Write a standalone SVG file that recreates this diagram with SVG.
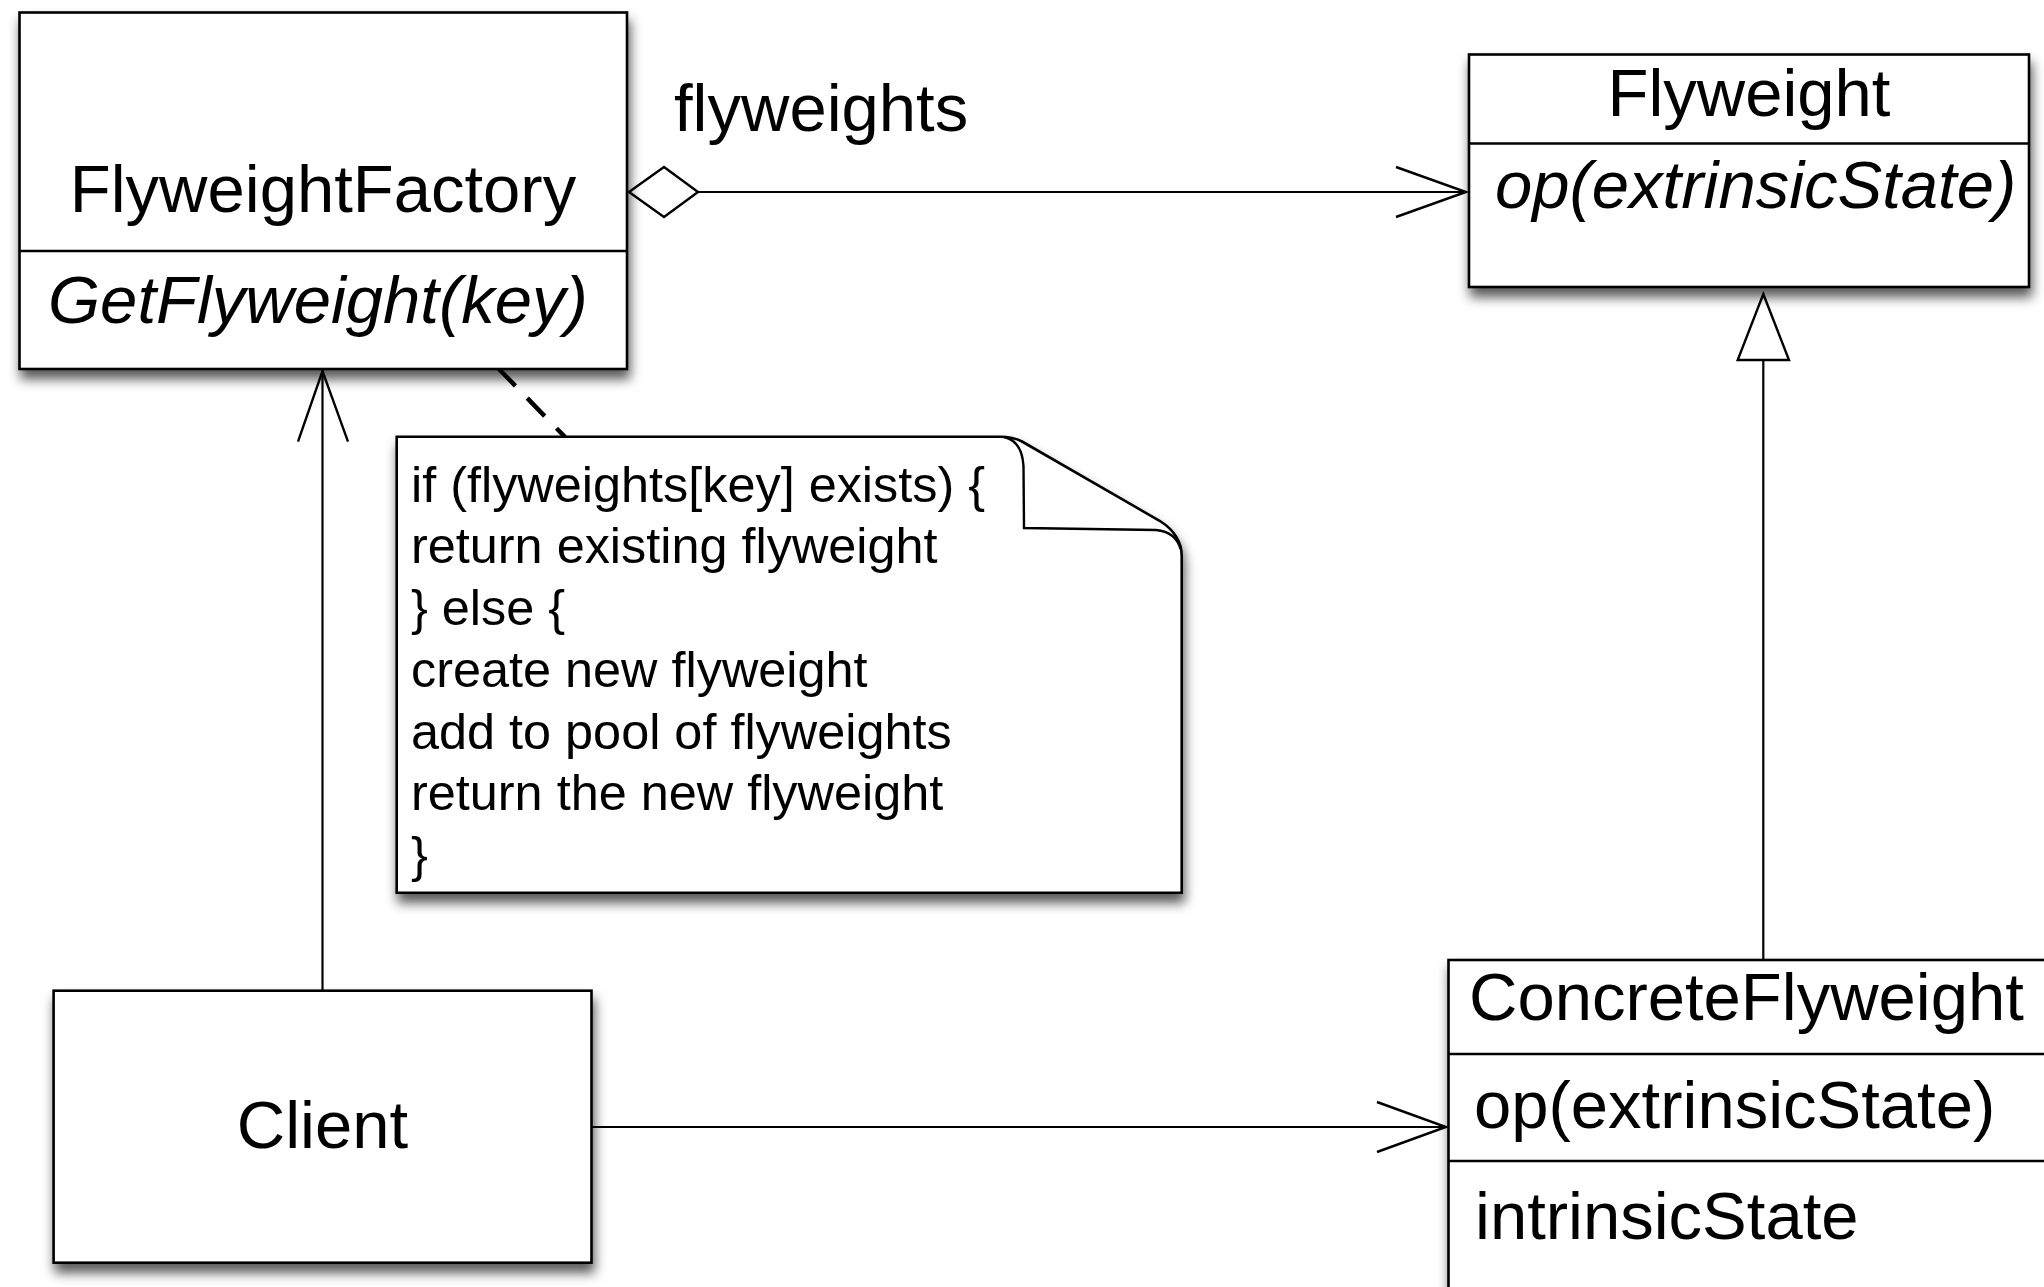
<svg xmlns="http://www.w3.org/2000/svg" width="2044" height="1287" viewBox="0 0 2044 1287">
<style>
.box{fill:#fff;stroke:#000;stroke-width:2.6}
.div{stroke:#000;stroke-width:2.4;fill:none}
.t{font-family:"Liberation Sans",Arial,Helvetica,sans-serif;font-size:67px;fill:#000}
.i{font-style:italic}
.n{font-family:"Liberation Sans",Arial,Helvetica,sans-serif;font-size:50.4px;fill:#000}
.ln{stroke:#000;stroke-width:2.2;fill:none}
.open{stroke:#000;stroke-width:2.4;fill:none}
.hollow{stroke:#000;stroke-width:2.4;fill:#fff}
</style>
<defs>
<filter id="sh" x="-10%" y="-10%" width="125%" height="130%">
<feDropShadow dx="2" dy="9" stdDeviation="6" flood-color="#000" flood-opacity="0.65"/>
</filter>
</defs>
<rect width="2044" height="1287" fill="#fff"/>

<g id="connectors">
<line class="ln" x1="322.5" y1="990.7" x2="322.5" y2="370"/>
<polyline class="open" points="298,441.7 322.5,371 348,441.7"/>
<line class="ln" x1="591.5" y1="1127" x2="1446" y2="1127"/>
<polyline class="open" points="1377,1102 1446,1127 1377,1152"/>
<line class="ln" x1="698" y1="192" x2="1466" y2="192"/>
<polyline class="open" points="1396,167 1466,192 1396,217"/>
<polygon class="hollow" points="629,192 664,167 698,192 664,217"/>
<line class="ln" x1="1763.3" y1="960" x2="1763.3" y2="360"/>
<polygon class="hollow" points="1763.3,294 1789,360 1737.7,360"/>
<line x1="498" y1="368" x2="565" y2="437" stroke="#000" stroke-width="4.5" stroke-dasharray="25,17"/>
</g>

<g id="FlyweightFactory">
<rect class="box" filter="url(#sh)" x="19.5" y="12.5" width="607.5" height="356.5"/>
<line class="div" x1="19.5" y1="251" x2="627" y2="251"/>
<text class="t" x="323" y="212" text-anchor="middle">FlyweightFactory</text>
<text class="t i" x="48" y="323">GetFlyweight(key)</text>
</g>

<g id="aggLabel">
<text class="t" x="674" y="131">flyweights</text>
</g>

<g id="Flyweight">
<rect class="box" filter="url(#sh)" x="1469" y="54.5" width="560" height="232.5"/>
<line class="div" x1="1469" y1="143.5" x2="2029" y2="143.5"/>
<text class="t" x="1749" y="116" text-anchor="middle">Flyweight</text>
<text class="t i" x="1495" y="208">op(extrinsicState)</text>
</g>

<g id="Note">
<path class="box" filter="url(#sh)" d="M396.7,436.7 L1000,436.7 Q1013,436.7 1022,441.5 L1160,521 Q1181.7,535 1181.7,556 L1181.7,892.7 L396.7,892.7 Z"/>
<path class="div" d="M1004,437 Q1022,441 1023.5,466 L1024,528 L1156,530 Q1176,532 1180.5,549"/>
<text class="n" x="411" y="501.7">if (flyweights[key] exists) {</text>
<text class="n" x="411" y="563.4">return existing flyweight</text>
<text class="n" x="411" y="625.1">} else {</text>
<text class="n" x="411" y="686.8">create new flyweight</text>
<text class="n" x="411" y="748.5">add to pool of flyweights</text>
<text class="n" x="411" y="810.2">return the new flyweight</text>
<text class="n" x="411" y="871.9">}</text>
</g>

<g id="Client">
<rect class="box" filter="url(#sh)" x="53.6" y="990.7" width="537.9" height="272"/>
<text class="t" x="322.5" y="1148" text-anchor="middle">Client</text>
</g>

<g id="ConcreteFlyweight">
<rect class="box" filter="url(#sh)" x="1448.5" y="960" width="640" height="360"/>
<line class="div" x1="1448.5" y1="1054" x2="2060" y2="1054"/>
<line class="div" x1="1448.5" y1="1161" x2="2060" y2="1161"/>
<text class="t" x="1469" y="1020">ConcreteFlyweight</text>
<text class="t" x="1474" y="1128">op(extrinsicState)</text>
<text class="t" x="1475" y="1239">intrinsicState</text>
</g>
</svg>
